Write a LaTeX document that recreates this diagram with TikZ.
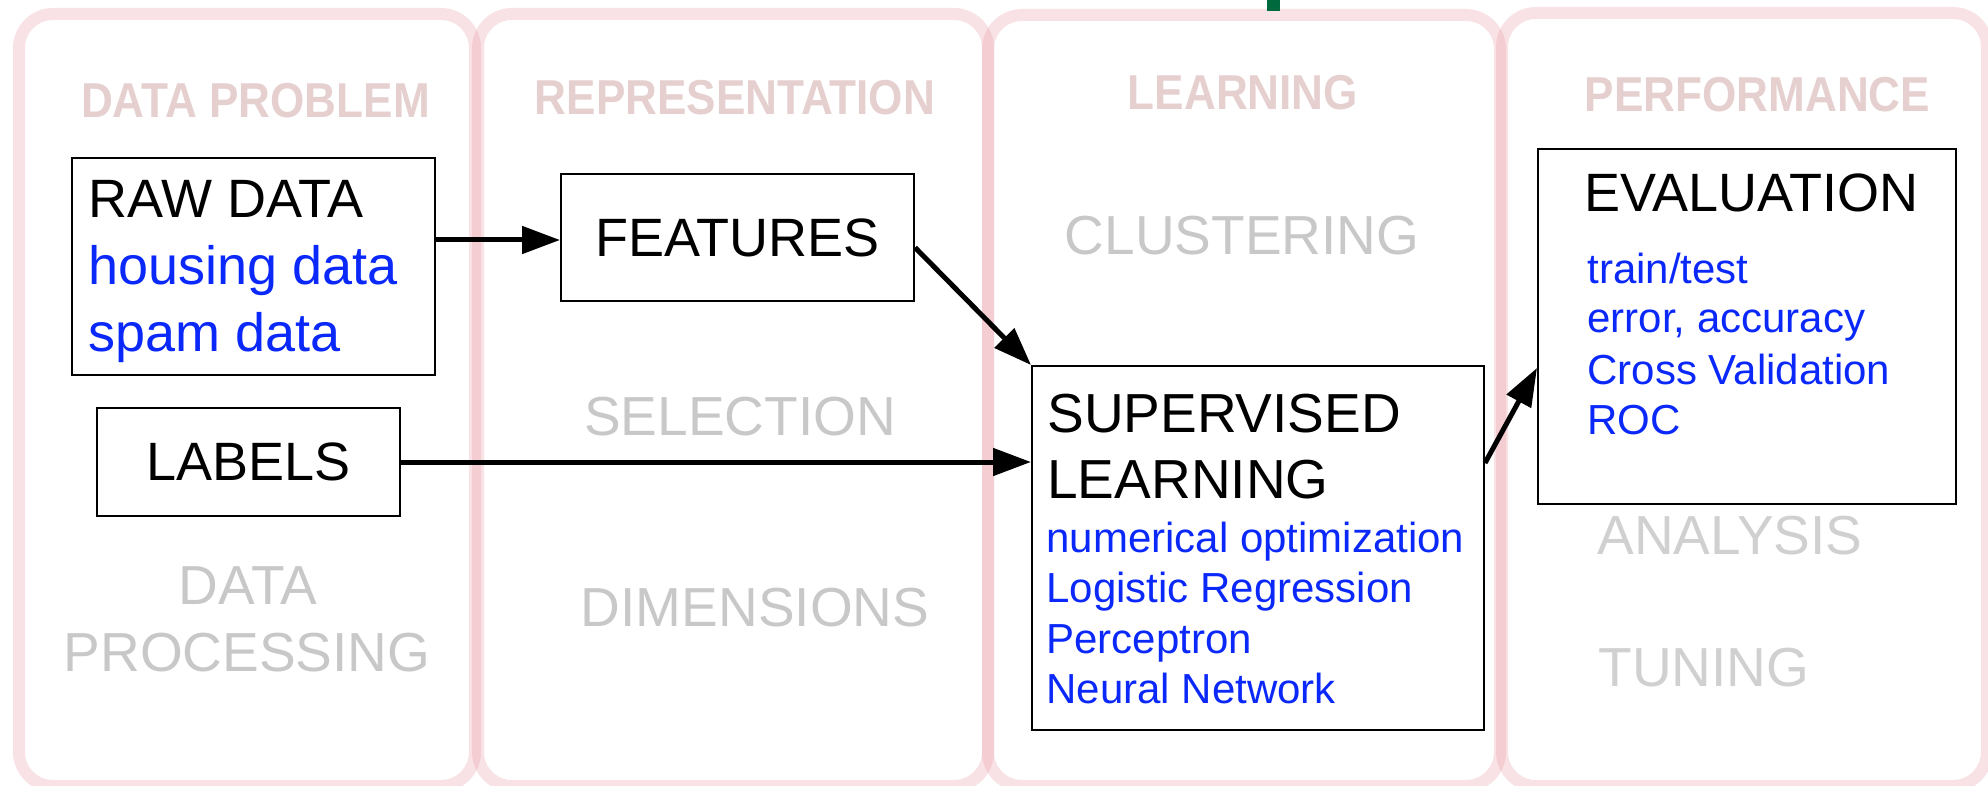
\documentclass[tikz,border=0pt]{standalone}
\usepackage{fontspec}
\setmainfont{Liberation Sans}
\newfontfamily\hdrfont[FakeStretch=0.9]{Liberation Sans Bold}
\usetikzlibrary{arrows.meta}
\definecolor{panelpink}{RGB}{232,150,160}
\definecolor{hdrcol}{RGB}{229,207,207}
\definecolor{ghost}{RGB}{200,200,200}
\definecolor{ghostlight}{RGB}{208,208,208}
\definecolor{itemblue}{RGB}{10,40,250}
\definecolor{topgreen}{RGB}{0,105,62}
\tikzset{
  panel/.style={draw=panelpink, draw opacity=0.28, line width=6pt, rounded corners=17pt},
  box/.style={draw=black, line width=1pt, fill=white, inner sep=0pt, anchor=north west},
  hdr/.style={font=\hdrfont\fontsize{24.5pt}{24.5pt}\selectfont, text=hdrcol, anchor=base, inner sep=0pt},
  big/.style={font=\fontsize{27pt}{27pt}\selectfont, anchor=base west, inner sep=0pt},
  bigblue/.style={big, text=itemblue},
  small/.style={font=\fontsize{21pt}{21pt}\selectfont, text=itemblue, anchor=base west, inner sep=0pt},
  ghosttext/.style={font=\fontsize{27.5pt}{27.5pt}\selectfont, text=ghost, anchor=base, inner sep=0pt},
  arr/.style={line width=2.5pt, -{Triangle[length=19pt,width=13.5pt]}},
}
\begin{document}
\begin{tikzpicture}[x=0.5pt,y=-0.5pt]
\useasboundingbox (0,0) rectangle (1988,786);
\clip (0,0) rectangle (1988,786);
% panels
\draw[panel] (19,14) rectangle (475,786);
\draw[panel] (478,14) rectangle (988,786);
\draw[panel] (988,15) rectangle (1500,786);
\draw[panel] (1502,13) rectangle (1987,786);
\fill[topgreen] (1267,0) rectangle (1280,11);
% headers
\node[hdr] (h1) at (255.5,118) {DATA PROBLEM};
\node[hdr] (h2) at (735,115) {REPRESENTATION};
\node[hdr] (h3) at (1243,110) {LEARNING};
\node[hdr] (h4) at (1757.5,112) {PERFORMANCE};
% ghost texts
\node[ghosttext] (g1) at (248,604) {DATA};
\node[ghosttext] (g2) at (247,671) {PROCESSING};
\node[ghosttext] (g3) at (740,436) {SELECTION};
\node[ghosttext] (g4) at (755,626) {DIMENSIONS};
\node[ghosttext] (g5) at (1242,255) {CLUSTERING};
\node[ghosttext, text=ghostlight, anchor=base west] (g6) at (1597,554) {ANALYSIS};
\node[ghosttext, text=ghostlight, anchor=base west] (g7) at (1598,686) {TUNING};
% boxes
\node[box, minimum width=181.5pt, minimum height=108.5pt] (raw) at (71,157) {};
\node[big] (rawt1) at (88,218) {RAW DATA};
\node[bigblue] (rawt2) at (88,285) {housing data};
\node[bigblue] (rawt3) at (88,352) {spam data};
\node[box, minimum width=176.5pt, minimum height=63.5pt, font=\fontsize{27pt}{27pt}\selectfont] (feat) at (560,173) {FEATURES};
\node[box, minimum width=151.5pt, minimum height=54pt, font=\fontsize{27pt}{27pt}\selectfont] (lab) at (96,407) {LABELS};
\node[box, minimum width=226pt, minimum height=182pt] (sup) at (1031,365) {};
\node[big, font=\fontsize{27.5pt}{27.5pt}\selectfont] (supt1) at (1047,432) {SUPERVISED};
\node[big, font=\fontsize{27.5pt}{27.5pt}\selectfont] (supt2) at (1047,498) {LEARNING};
\node[small] (supt3) at (1046,552) {numerical optimization};
\node[small] (supt4) at (1046,602) {Logistic Regression};
\node[small] (supt5) at (1046,653) {Perceptron};
\node[small] (supt6) at (1046,703) {Neural Network};
\node[box, minimum width=209pt, minimum height=177.5pt] (eval) at (1537,148) {};
\node[big] (evt1) at (1584,212) {EVALUATION};
\node[small] (evt2) at (1587,284) {train/test};
\node[small] (evt3) at (1587,333) {error, accuracy};
\node[small] (evt4) at (1587,385) {Cross Validation};
\node[small] (evt5) at (1587,435) {ROC};
% connectors
\coordinate (rawout) at ([yshift=-41.5pt]raw.north east);
\draw[arr] (rawout) -- (rawout -| feat.west);
\draw[arr] ([yshift=-5pt]feat.east) -- (sup.north west);
\draw[arr] (lab.east) -- (lab.east -| sup.west);
\draw[arr] ([yshift=-49pt]sup.north east) -- ([yshift=-110pt]eval.north west);
\end{tikzpicture}
\end{document}
